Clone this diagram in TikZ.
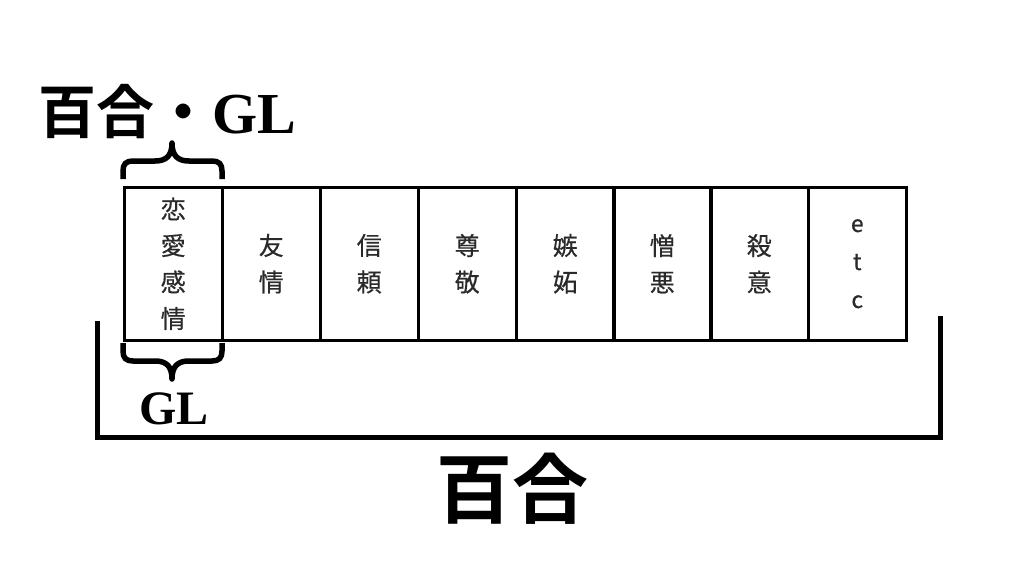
\documentclass[tikz,border=0pt]{standalone}
\usepackage{fontspec}
\setmainfont{Liberation Serif}
\newfontfamily\cjk[FakeBold=0.5]{Noto Sans CJK JP}
\newfontfamily\cjkb{Noto Sans CJK JP Bold}
\definecolor{celltext}{HTML}{2A2A2A}
\tikzset{
  cellbox/.style={draw=black, line width=2.5pt, minimum width=98pt, minimum height=153pt, inner sep=0pt, anchor=north west,
    font=\cjk\fontsize{25}{36.5}\selectfont, text=celltext, align=center},
  bracestroke/.style={line width=5.5pt, line join=round},
  bracket/.style={line width=5pt},
  lbl/.style={inner sep=0pt}
}
\begin{document}
\begin{tikzpicture}[x=1pt,y=-1pt]
\useasboundingbox (0,0) rectangle (1022,583);
\node[cellbox] (c1) at (123,186) {恋\\愛\\感\\情};
\node[cellbox] (c2) at (221,186) {友\\情};
\node[cellbox] (c3) at (319,186) {信\\頼};
\node[cellbox] (c4) at (417,186) {尊\\敬};
\node[cellbox] (c5) at (515,186) {嫉\\妬};
\node[cellbox] (c6) at (612,186) {憎\\悪};
\node[cellbox] (c7) at (709,186) {殺\\意};
\node[cellbox, font=\cjk\fontsize{23}{38}\selectfont] (c8) at (807,186) {e\\t\\c};
% top brace
\draw[bracestroke] (123,179) -- (123,171) .. controls (123,164) and (126,161) .. (133,161)
  -- (155,161) .. controls (166,161) and (172,156) .. (172,143)
  .. controls (172,156) and (178,161) .. (189,161)
  -- (212,161) .. controls (219,161) and (222,164) .. (222,171) -- (222,179);
% bottom brace
\draw[bracestroke] (123,343) -- (123,351) .. controls (123,358) and (126,361) .. (133,361)
  -- (155,361) .. controls (166,361) and (172,366) .. (172,379)
  .. controls (172,366) and (178,361) .. (189,361)
  -- (212,361) .. controls (219,361) and (222,358) .. (222,351) -- (222,343);
\coordinate (bl) at (97,321);
\coordinate (br) at (940,316);
\coordinate (bc) at (97,437);
\draw[bracket] (bl) -- (bc) -- (bc -| br) -- (br);
\node[lbl, anchor=base west] (top) at (38,134) {{\cjkb\fontsize{58}{58}\selectfont 百合・}{\bfseries\fontsize{58}{58}\selectfont GL}};
\node[lbl, anchor=base] (gl) at (174,424) {\bfseries\fontsize{48}{48}\selectfont GL};
\node[lbl, anchor=base] (yuri) at (512,517) {\cjkb\fontsize{76}{76}\selectfont 百合};
\end{tikzpicture}
\end{document}
